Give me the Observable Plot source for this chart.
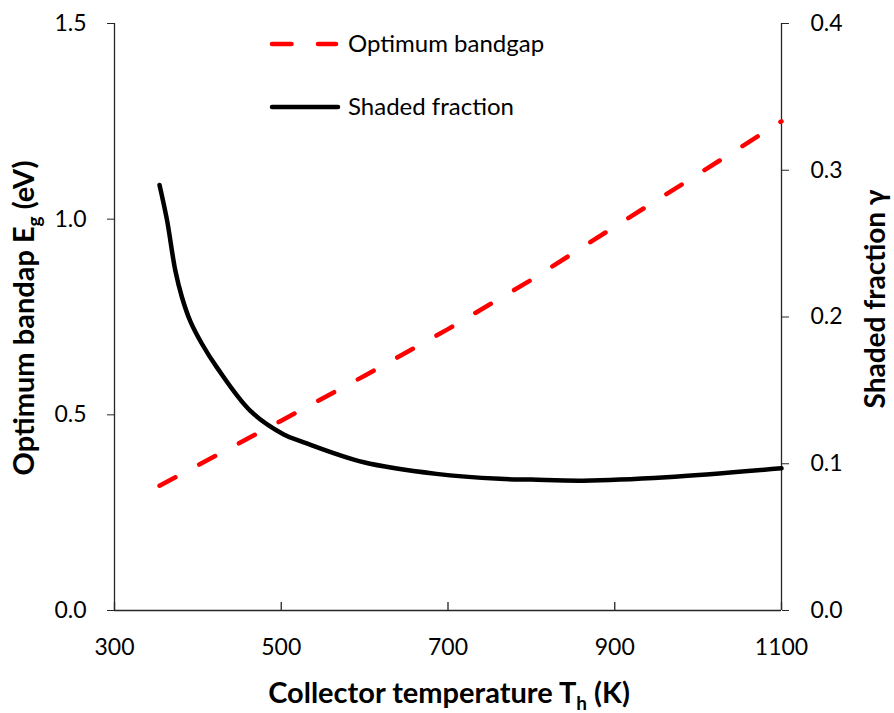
<!DOCTYPE html>
<html>
<head>
<meta charset="utf-8">
<script src="https://cdn.jsdelivr.net/npm/d3@7"></script>
<script src="https://cdn.jsdelivr.net/npm/@observablehq/plot@0.6"></script>
<style>
  body { margin: 0; background: #fff; }
  #wrap { position: relative; width: 894px; height: 713px; }
</style>
</head>
<body>
<div id="wrap"></div>
<script>
// ---- Data ----
const temperatureBandgap = [354, 400, 500, 600, 700, 800, 900, 1000, 1100];
const optimumBandgap     = [0.319, 0.371, 0.485, 0.600, 0.719, 0.845, 0.981, 1.115, 1.250];

const temperatureShaded = [354, 363, 373, 381, 391, 405, 423, 463, 503, 527, 599, 686, 762, 800, 862, 962, 1100];
const shadedFraction    = [0.290, 0.266, 0.2315, 0.2133, 0.197, 0.1816, 0.1655, 0.136, 0.120, 0.1146, 0.101, 0.0931, 0.0897, 0.0892, 0.0885, 0.0908, 0.0969];

const xTicks     = [300, 500, 700, 900, 1100];
const leftTicks  = [0, 0.5, 1.0, 1.5];
const rightTicks = [0, 0.1, 0.2, 0.3, 0.4];

const seriesNames  = ["Optimum bandgap", "Shaded fraction"];
const seriesColors = ["#ff0000", "#000000"];

const xTitle = ["Collector temperature T", "h", " (K)"];
const yLeftTitle = ["Optimum bandap E", "g", " (eV)"];
const yRightTitle = "Shaded fraction γ";

// ---- Build ----
const leftMax = 1.5, rightMax = 0.4;
const k = leftMax / rightMax;   // maps right-axis values onto the left scale
const bandData  = temperatureBandgap.map((t, i) => ({t, v: optimumBandgap[i]}));
const shadeData = temperatureShaded.map((t, i) => ({t, v: shadedFraction[i] * k}));

const W = 894, H = 713, mL = 114, mR = 113, mT = 23, mB = 103;
const axisColor = "#262626";
const fmt = d3.format(".1f");
const font = "Lato, 'Open Sans', sans-serif";

const chart = Plot.plot({
  width: W, height: H,
  marginLeft: mL, marginRight: mR, marginTop: mT, marginBottom: mB,
  style: {fontFamily: font, fontSize: "23px", color: "#000", background: "#fff"},
  x: {domain: [300, 1100]},
  y: {domain: [0, leftMax]},
  marks: [
    Plot.axisY(leftTicks, {anchor: "left", tickSize: 7, tickPadding: 21, tickFormat: fmt, label: null, stroke: axisColor, fill: "#000"}),
    Plot.axisY(rightTicks.map(d => d * k), {anchor: "right", tickSize: 7, tickPadding: 22, tickFormat: d => fmt(d / k), label: null, stroke: axisColor, fill: "#000"}),
    Plot.axisX(xTicks, {anchor: "bottom", tickSize: 0, tickPadding: 28, tickFormat: d => String(d), label: null, fill: "#000"}),
    Plot.ruleX(xTicks, {y1: 0, y2: 0, insetTop: -8, stroke: axisColor, strokeWidth: 1.3}),
    Plot.ruleX([300], {stroke: axisColor, strokeWidth: 1.3}),
    Plot.ruleX([1100], {stroke: axisColor, strokeWidth: 1.3}),
    Plot.ruleY([0], {stroke: axisColor, strokeWidth: 1.3}),
    Plot.line(bandData, {x: "t", y: "v", stroke: seriesColors[0], strokeWidth: 4.5, strokeDasharray: "18,27", strokeLinecap: "round"}),
    Plot.line(shadeData, {x: "t", y: "v", stroke: seriesColors[1], strokeWidth: 4.5, curve: "catmull-rom", strokeLinecap: "round", strokeLinejoin: "round"})
  ]
});

const svg = d3.select(chart);

function addTitle(parts, x, y, rotate, size) {
  const t = svg.append("text")
    .attr("transform", `translate(${x},${y})` + (rotate ? ` rotate(${rotate})` : ""))
    .attr("text-anchor", "middle")
    .attr("font-family", font)
    .attr("font-size", size)
    .attr("font-weight", "bold")
    .attr("fill", "#000");
  if (typeof parts === "string") { t.text(parts); return; }
  t.append("tspan").text(parts[0]);
  t.append("tspan").attr("font-size", Math.round(size * 0.66)).attr("dy", 7).text(parts[1]);
  t.append("tspan").attr("dy", -7).text(parts[2]);
}
addTitle(xTitle, 449, 703, 0, 29);
addTitle(yLeftTitle, 34, 318, -90, 29);
addTitle(yRightTitle, 885, 299, -90, 28);

// Legend
const legend = svg.append("g").attr("font-family", font).attr("font-size", 24).attr("text-anchor", "start");
const legendY = [44, 107];
seriesNames.forEach((name, i) => {
  legend.append("line")
    .attr("x1", 272).attr("x2", i === 0 ? 336 : 338)
    .attr("y1", legendY[i]).attr("y2", legendY[i])
    .attr("stroke", seriesColors[i]).attr("stroke-width", 4.5)
    .attr("stroke-linecap", "round")
    .attr("stroke-dasharray", i === 0 ? "19.5,26.5" : null);
  legend.append("text").attr("x", 348).attr("y", legendY[i]).attr("dy", "0.35em")
    .attr("text-anchor", "start")
    .attr("fill", "#000").text(name);
});

document.getElementById("wrap").appendChild(chart);
</script>
</body>
</html>
